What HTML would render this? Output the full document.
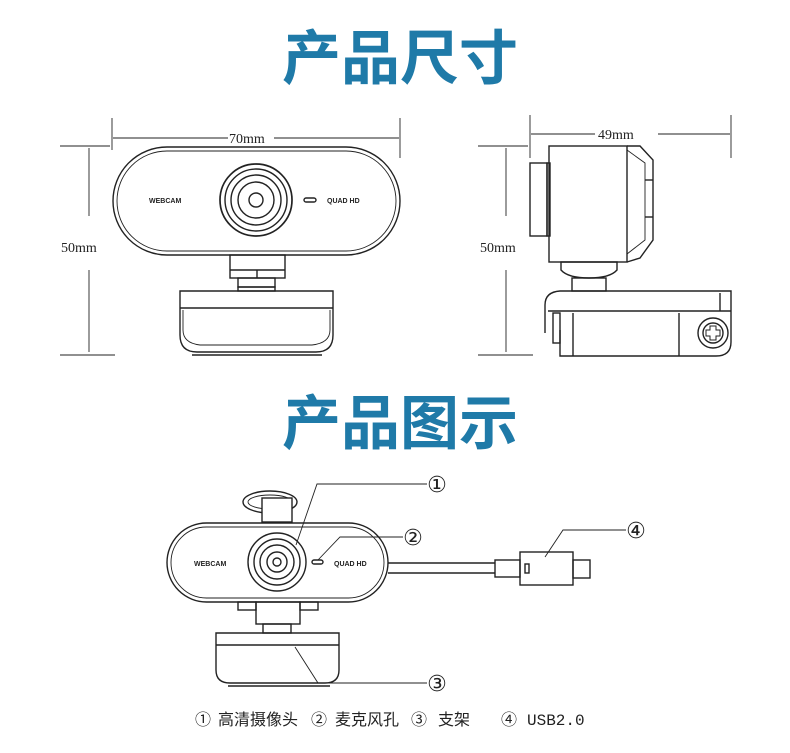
<!DOCTYPE html>
<html><head><meta charset="utf-8"><style>
html,body{margin:0;padding:0;background:#fff;}
svg{display:block}
.t{font-family:"Noto Sans CJK SC",sans-serif;font-weight:bold;fill:#1f7aa8;font-size:59px}
.s{font-family:"Liberation Serif",serif;font-size:14px;fill:#222}
.sm{font-family:"Liberation Sans",sans-serif;font-size:7px;font-weight:bold;fill:#222}
.lg{font-family:"Liberation Mono","Noto Sans CJK SC",sans-serif;font-size:16px;fill:#222}
</style></head><body>
<svg width="790" height="753" viewBox="0 0 790 753" xmlns="http://www.w3.org/2000/svg">
<text class="t" x="400" y="79" text-anchor="middle">产品尺寸</text>
<text class="t" x="400" y="444" text-anchor="middle">产品图示</text>
<g fill="none" stroke="#222" stroke-width="1.4">
<g stroke-width="0.9">
<line x1="112" y1="118" x2="112" y2="150"/><line x1="400" y1="118" x2="400" y2="158"/>
<line x1="113" y1="138" x2="228" y2="138"/><line x1="274" y1="138" x2="399" y2="138"/>
<line x1="60" y1="146" x2="110" y2="146"/><line x1="89" y1="148" x2="89" y2="216"/>
<line x1="89" y1="270" x2="89" y2="352"/><line x1="60" y1="355" x2="115" y2="355"/>
</g>
<rect x="113" y="147" width="287" height="108" rx="54"/>
<rect x="117" y="151" width="279" height="100" rx="50" stroke-width="0.9"/>
<circle cx="256" cy="200" r="36" stroke-width="1.7"/><circle cx="256" cy="200" r="31"/>
<circle cx="256" cy="200" r="25"/><circle cx="256" cy="200" r="18"/><circle cx="256" cy="200" r="7"/>
<rect x="304" y="198" width="12" height="4" rx="2"/>
<rect x="230" y="255" width="55" height="23"/><line x1="257" y1="270" x2="257" y2="278"/><line x1="230" y1="270" x2="285" y2="270"/>
<rect x="238" y="278" width="37" height="9"/><rect x="238" y="287" width="37" height="4"/>
<path d="M180 291 H333 V335 Q333 352 316 352 H197 Q180 352 180 335 Z"/>
<line x1="180" y1="308" x2="333" y2="308"/>
<path d="M183 310 V330 Q183 343 200 345 H312 Q330 343 330 330 V310" stroke-width="0.9"/>
<line x1="192" y1="355" x2="322" y2="355"/>
<g stroke-width="0.9">
<line x1="530" y1="115" x2="530" y2="158"/><line x1="731" y1="115" x2="731" y2="158"/>
<line x1="531" y1="134" x2="595" y2="134"/><line x1="658" y1="134" x2="730" y2="134"/>
<line x1="478" y1="146" x2="528" y2="146"/><line x1="506" y1="148" x2="506" y2="216"/>
<line x1="506" y1="270" x2="506" y2="352"/><line x1="478" y1="355" x2="533" y2="355"/>
</g>
<rect x="530" y="163" width="17" height="73"/><rect x="547" y="163" width="3" height="73"/>
<rect x="549" y="146" width="78" height="116"/>
<path d="M627 146 H640 L653 160 V240 L640 258 L627 262"/>
<path d="M627 150 L645 163 V240 L627 254" stroke-width="0.9"/>
<line x1="645" y1="180" x2="653" y2="180"/><line x1="645" y1="217" x2="653" y2="217"/>
<path d="M561 262 H617 V270 Q610 278 589 278 Q568 278 561 270 Z"/>
<rect x="572" y="278" width="34" height="13"/>
<path d="M545 333 V305 Q545 292 560 291 H731 V342 Q731 356 716 356 H560 V330"/>
<line x1="548" y1="311" x2="731" y2="311"/>
<rect x="553" y="313" width="7" height="30"/><line x1="573" y1="313" x2="573" y2="356"/>
<line x1="679" y1="313" x2="679" y2="356"/><line x1="720" y1="293" x2="720" y2="311"/>
<circle cx="713" cy="333" r="15"/><circle cx="713" cy="333" r="10"/>
<path d="M710 326 h6 v4 h4 v6 h-4 v4 h-6 v-4 h-4 v-6 h4 z" stroke-width="1"/>
<ellipse cx="270" cy="502" rx="27" ry="11"/><ellipse cx="270" cy="502" rx="22" ry="7" stroke-width="0.9"/>
<rect x="262" y="498" width="30" height="24" fill="#fff"/>
<rect x="167" y="523" width="221" height="79" rx="39.5"/>
<rect x="171" y="527" width="213" height="71" rx="35.5" stroke-width="0.9"/>
<circle cx="277" cy="562" r="29"/><circle cx="277" cy="562" r="23"/><circle cx="277" cy="562" r="17"/><circle cx="277" cy="562" r="10"/><circle cx="277" cy="562" r="4"/>
<rect x="312" y="560" width="11" height="4" rx="2"/>
<rect x="238" y="602" width="18" height="8"/><rect x="300" y="602" width="18" height="8"/>
<rect x="256" y="602" width="44" height="22"/><rect x="263" y="624" width="28" height="9"/>
<path d="M216 633 H339 V670 Q339 683 325 683 H230 Q216 683 216 670 Z"/>
<line x1="216" y1="645" x2="339" y2="645"/>
<line x1="228" y1="686" x2="330" y2="686"/>
<path d="M388 563 H495 M388 573 H495"/>
<rect x="495" y="560" width="25" height="17"/>
<rect x="520" y="552" width="53" height="33"/><rect x="525" y="564" width="4" height="9"/>
<rect x="573" y="560" width="17" height="18"/>
<g stroke-width="0.9">
<path d="M427 484 H317 L296 545"/><path d="M403 537 H340 L318 560"/>
<path d="M427 683 H318 L295 647"/><path d="M626 530 H563 L545 557"/>
</g>
</g>
<text class="s" x="229" y="143" font-size="15">70mm</text>
<text class="s" x="598" y="139" font-size="15">49mm</text>
<text class="s" x="61" y="252" font-size="15">50mm</text>
<text class="s" x="480" y="252" font-size="15">50mm</text>
<text class="sm" x="149" y="203">WEBCAM</text>
<text class="sm" x="327" y="203">QUAD HD</text>
<text class="sm" x="194" y="566" font-size="6">WEBCAM</text>
<text class="sm" x="334" y="566" font-size="6">QUAD HD</text>
<g font-family="DejaVu Sans,sans-serif" font-size="22" fill="#222" text-anchor="middle">
<text x="437" y="492">①</text><text x="413" y="545">②</text>
<text x="437" y="691">③</text><text x="636" y="538">④</text>
</g>
<g class="lg">
<text x="195" y="725">①</text><text x="218" y="725">高清摄像头</text>
<text x="311" y="725">②</text><text x="335" y="725">麦克风孔</text>
<text x="411" y="725">③</text><text x="438" y="725">支架</text>
<text x="501" y="725">④</text><text x="527" y="725">USB2.0</text>
</g>
</svg>
</body></html>
